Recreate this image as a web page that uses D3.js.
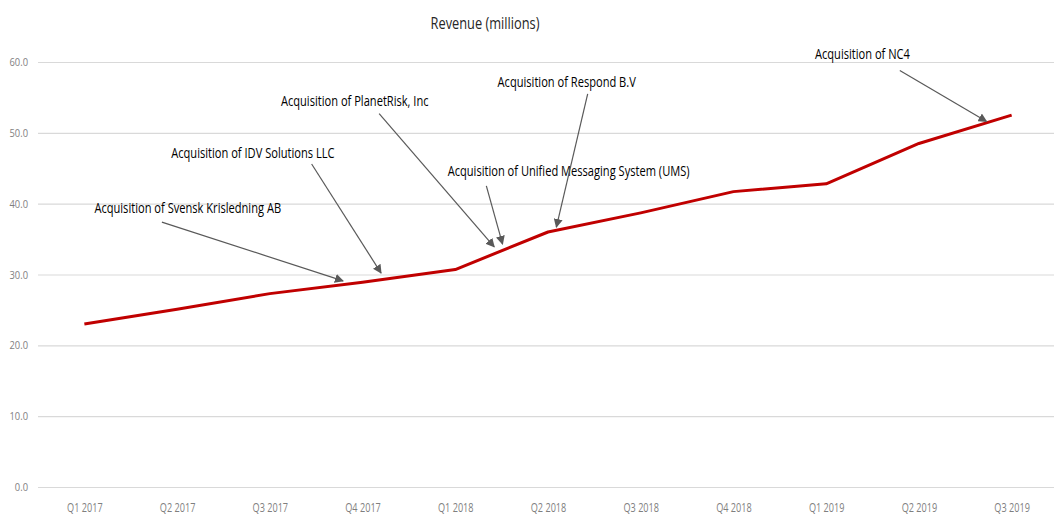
<!DOCTYPE html>
<html>
<head>
<meta charset="utf-8">
<script src="https://cdn.jsdelivr.net/npm/d3@7"></script>
<style>
  body { margin: 0; background: #fff; }
  text { font-family: "Open Sans", sans-serif; }
</style>
</head>
<body>
<div id="chart"></div>
<script>
// data
var quarters = ["Q1 2017", "Q2 2017", "Q3 2017", "Q4 2017", "Q1 2018", "Q2 2018",
                "Q3 2018", "Q4 2018", "Q1 2019", "Q2 2019", "Q3 2019"];
var revenue = [23.0, 25.1, 27.3, 28.9, 30.7, 36.0, 38.7, 41.7, 42.8, 48.5, 52.5];
var yTicks = [0, 10, 20, 30, 40, 50, 60];
var acquisitions = ["Acquisition of Svensk Krisledning AB",
                    "Acquisition of IDV Solutions LLC",
                    "Acquisition of PlanetRisk, Inc",
                    "Acquisition of Unified Messaging System (UMS)",
                    "Acquisition of Respond B.V",
                    "Acquisition of NC4"];

// where each note sits, in (quarter index, value) units
var notePos = [
    {tx: 0.108, ty: 39.4, sx: 0.836, sy: 37.4, ex: 2.79, ey: 29.1},
    {tx: 0.937, ty: 47.2, sx: 2.451, sy: 45.6, ex: 3.20, ey: 30.2},
    {tx: 2.12,  ty: 54.5, sx: 3.179, sy: 52.7, ex: 4.42, ey: 33.9},
    {tx: 3.918, ty: 44.6, sx: 4.335, sy: 42.5, ex: 4.51, ey: 34.3},
    {tx: 4.456, ty: 57.2, sx: 5.428, sy: 55.5, ex: 5.09, ey: 36.7},
    {tx: 7.879, ty: 61.1, sx: 8.794, sy: 58.8, ex: 9.73, ey: 51.6}
];

var width = 1054, height = 519;

var svg = d3.select("#chart")
    .append("svg")
    .attr("width", width)
    .attr("height", height);

var x = d3.scalePoint()
    .domain(quarters)
    .range([38, 1058])
    .padding(0.5);

var y = d3.scaleLinear()
    .domain([0, 60])
    .range([487, 62]);

// fractional quarter index -> px
function xi(t) { return x(quarters[0]) + t * x.step(); }

// squeeze text sideways, the source font is a narrow one
function squeeze(sel, k) {
    sel.each(function() {
        var w = this.getComputedTextLength();
        d3.select(this)
            .attr("textLength", w * k)
            .attr("lengthAdjust", "spacingAndGlyphs");
    });
}

svg.append("defs").append("marker")
    .attr("id", "arrow")
    .attr("viewBox", "0 0 10 10")
    .attr("refX", 9).attr("refY", 5)
    .attr("markerWidth", 9).attr("markerHeight", 9)
    .attr("markerUnits", "userSpaceOnUse")
    .attr("orient", "auto")
    .append("path")
    .attr("d", "M0,0 L10,5 L0,10 z")
    .attr("fill", "#595959");

// gridlines + y labels
var yAxis = svg.append("g")
    .attr("transform", "translate(38,0)")
    .call(d3.axisRight(y).tickValues(yTicks).tickSize(1020).tickFormat(d3.format(".1f")));
yAxis.select(".domain").remove();
yAxis.selectAll(".tick line").attr("stroke", "#d9d9d9").attr("stroke-width", 1.2);
yAxis.selectAll(".tick text")
    .attr("x", -10)
    .attr("text-anchor", "end")
    .attr("fill", "#7f7f7f")
    .style("font-size", "11px")
    .call(squeeze, 0.85);

// x labels
var xAxis = svg.append("g")
    .attr("transform", "translate(0,500)")
    .call(d3.axisBottom(x).tickSize(0));
xAxis.select(".domain").remove();
xAxis.selectAll(".tick text")
    .attr("dy", "0.71em")
    .attr("y", 3)
    .attr("fill", "#7f7f7f")
    .style("font-size", "12px")
    .call(squeeze, 0.76);

// line
var line = d3.line()
    .x(function(d, i) { return x(quarters[i]); })
    .y(function(d) { return y(d); });

svg.append("path")
    .datum(revenue)
    .attr("fill", "none")
    .attr("stroke", "#c00000")
    .attr("stroke-width", 3)
    .attr("stroke-linejoin", "round")
    .attr("d", line);

// title
svg.append("text")
    .attr("x", 485)
    .attr("y", 29)
    .attr("text-anchor", "middle")
    .style("font-size", "16px")
    .attr("fill", "#262626")
    .text("Revenue (millions)")
    .call(squeeze, 0.8);

// annotations
var notes = svg.selectAll(".note")
    .data(acquisitions)
    .enter().append("g")
    .attr("class", "note");

notes.append("line")
    .attr("x1", function(d, i) { return xi(notePos[i].sx); })
    .attr("y1", function(d, i) { return y(notePos[i].sy); })
    .attr("x2", function(d, i) { return xi(notePos[i].ex); })
    .attr("y2", function(d, i) { return y(notePos[i].ey); })
    .attr("stroke", "#595959")
    .attr("stroke-width", 1.2)
    .attr("marker-end", "url(#arrow)");

notes.append("text")
    .attr("x", function(d, i) { return xi(notePos[i].tx); })
    .attr("y", function(d, i) { return y(notePos[i].ty); })
    .attr("dy", "0.35em")
    .attr("fill", "#000")
    .style("font-size", "15px")
    .text(function(d) { return d; })
    .call(squeeze, 0.74);
</script>
</body>
</html>
